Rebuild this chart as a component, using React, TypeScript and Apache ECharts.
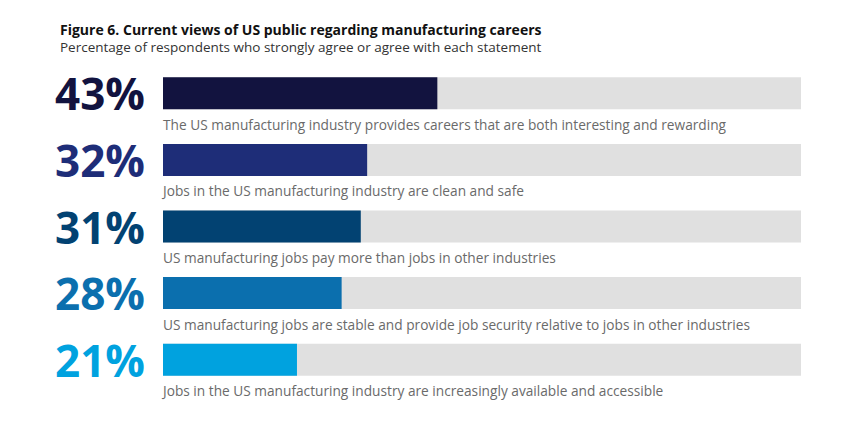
import React, { useRef, useEffect } from 'react';
import * as echarts from 'echarts';

const statements = [
  'The US manufacturing industry provides careers that are both interesting and rewarding',
  'Jobs in the US manufacturing industry are clean and safe',
  'US manufacturing jobs pay more than jobs in other industries',
  'US manufacturing jobs are stable and provide job security relative to jobs in other industries',
  'Jobs in the US manufacturing industry are increasingly available and accessible',
];
const shares = [43, 32, 31, 28, 21];
const barColors = ['#12133f', '#1e2d78', '#024272', '#0b6fae', '#00a2df'];
const fullScale = [100, 100, 100, 100, 100];

const FONT = '"Open Sans", "Noto Sans", sans-serif';

const App: React.FC = () => {
  const chartRef = useRef<HTMLDivElement>(null);

  useEffect(() => {
    if (!chartRef.current) return;
    document.body.style.margin = '0';
    const chart = echarts.init(chartRef.current, undefined, { renderer: 'svg' });

    const option: echarts.EChartsOption = {
      animation: false,
      backgroundColor: '#ffffff',
      textStyle: { fontFamily: FONT },
      title: {
        text: 'Figure 6. Current views of US public regarding manufacturing careers',
        subtext: 'Percentage of respondents who strongly agree or agree with each statement',
        left: 55,
        top: 17,
        itemGap: 4,
        textStyle: { fontFamily: FONT, fontSize: 14, fontWeight: 'bold', color: '#111111' },
        subtextStyle: { fontFamily: FONT, fontSize: 13.5, color: '#333333' },
      },
      grid: { left: 163, right: 64, top: 60, bottom: 50 },
      xAxis: {
        type: 'value',
        min: 0,
        max: 100,
        show: false,
      },
      yAxis: {
        type: 'category',
        inverse: true,
        data: statements,
        axisLine: { show: false },
        axisTick: { show: false },
        splitLine: { show: false },
        axisLabel: {
          align: 'left',
          margin: 108,
          fontFamily: FONT,
          fontSize: 44,
          fontWeight: 'bold',
          formatter: (_v: string, i: number) => `${shares[i]}%`,
          color: ((_v: string, i: number) => barColors[i]) as any,
        },
      },
      series: [
        {
          name: 'scale',
          type: 'bar',
          data: fullScale,
          barWidth: 32,
          barGap: '-100%',
          silent: true,
          itemStyle: { color: '#e0e0e0' },
          label: {
            show: true,
            position: [0, 47],
            verticalAlign: 'middle',
            align: 'left',
            fontFamily: FONT,
            fontSize: 13.7,
            color: '#6a6a6a',
            formatter: (p: any) => statements[p.dataIndex],
          },
        },
        {
          name: 'share',
          type: 'bar',
          data: shares.map((v, i) => ({ value: v, itemStyle: { color: barColors[i] } })),
          barWidth: 32,
          barGap: '-100%',
        },
      ],
    };

    chart.setOption(option);
    return () => chart.dispose();
  }, []);

  return <div ref={chartRef} style={{ width: 865, height: 443 }} />;
};

export default App;
